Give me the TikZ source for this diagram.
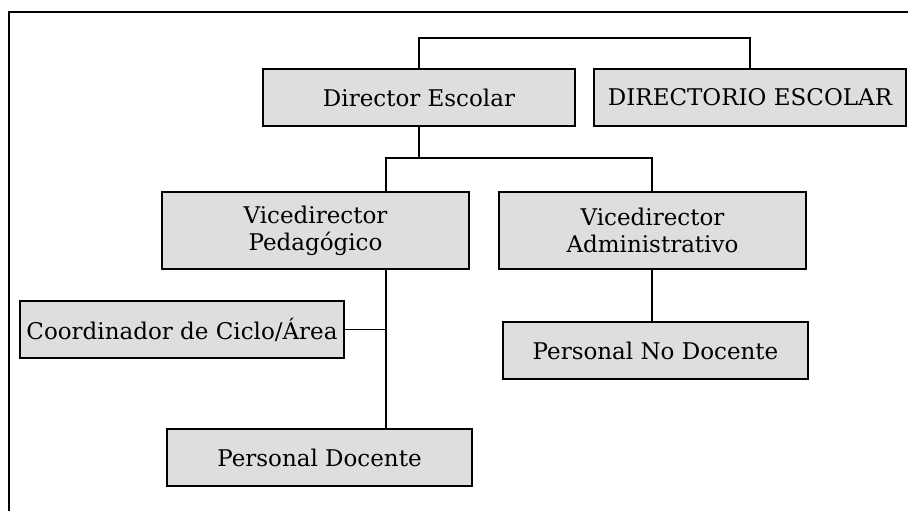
\documentclass[tikz,border=0pt]{standalone}
\usepackage{fontspec}
\setmainfont{DejaVu Serif}
\definecolor{boxgray}{RGB}{221,222,224}
\tikzset{
  unit/.style={draw, line width=2pt, fill=boxgray, align=center,
    inner sep=0pt, font=\fontsize{23}{27}\selectfont},
  link/.style={line width=1.6pt}
}
\begin{document}
\begin{tikzpicture}[x=1pt,y=-1pt]
\useasboundingbox (0,0) rectangle (908,511);
\draw[line width=2.2pt] (9,511) -- (9,12) -- (920,12);

\node[unit, minimum width=312, minimum height=57] (dir) at (419,97.5) {Director Escolar};
\node[unit, minimum width=312, minimum height=57] (dirio) at (750,97.5) {DIRECTORIO ESCOLAR};

\node[unit, minimum width=307, minimum height=77] (vped) at (315.5,230.5) {Vicedirector\\Pedagógico};
\node[unit, minimum width=307, minimum height=77] (vadm) at (652.5,230.5) {Vicedirector\\Administrativo};

\node[unit, minimum width=324, minimum height=57] (coord) at (182,329.5) {Coordinador de Ciclo/Área};
\node[unit, minimum width=305, minimum height=57] (pdoc) at (319.5,457.5) {Personal Docente};
\node[unit, minimum width=305, minimum height=57] (pnodoc) at (655.5,350.5) {Personal No Docente};

\coordinate (ped) at (386,158);
\coordinate (adm) at (652,158);

\draw[link] (dir.north) -- ++(0,-30) -| (dirio.north);
\draw[link] (dir.south) -- (dir.south |- ped);
\draw[link] (ped |- vped.north) -- (ped) -- (adm) -- (adm |- vadm.north);
\draw[link] (ped |- vped.south) -- (ped |- pdoc.north);
\draw[link] (coord.east) -- (coord.east -| ped);
\draw[link] (adm |- vadm.south) -- (adm |- pnodoc.north);
\end{tikzpicture}
\end{document}
